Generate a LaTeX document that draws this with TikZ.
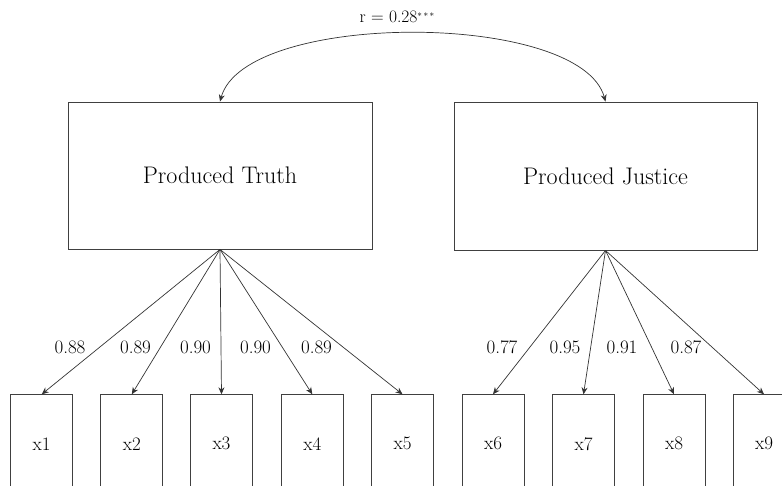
\documentclass[tikz,border=0pt]{standalone}
\usetikzlibrary{arrows.meta}
\begin{document}
\begin{tikzpicture}[x=1pt,y=-1pt,
  latent/.style={draw=black!75,line width=0.9pt,rectangle,inner sep=0pt,
    font=\fontsize{24}{28}\selectfont},
  obs/.style={draw=black!75,line width=0.9pt,rectangle,inner sep=0pt,
    minimum width=62pt,minimum height=98pt,anchor=north,
    font=\fontsize{19}{22}\selectfont},
  load/.style={draw=black!80,line width=0.7pt,-{Stealth[length=7pt,width=6pt]}},
  corr/.style={draw=black!80,line width=0.7pt,{Stealth[length=7pt,width=6pt]}-{Stealth[length=7pt,width=6pt]}},
  lbl/.style={font=\fontsize{19}{22}\selectfont,inner sep=0pt}]
\useasboundingbox (0,0) rectangle (782,486);
\clip (0,0) rectangle (782,486);
\node[latent,minimum width=304pt,minimum height=147pt] (PT) at (220,175.5) {Produced Truth};
\node[latent,minimum width=303pt,minimum height=148pt] (PJ) at (605.5,176) {Produced Justice};
\foreach \i/\x in {1/41.7,2/131.8,3/221.5,4/312.3,5/402.5,6/493,7/583.5,8/674,9/764}
  \node[obs] (x\i) at (\x,394.3) {x\i};
\foreach \i in {1,...,5} \draw[load] (PT.south) -- (x\i.north);
\foreach \i in {6,...,9} \draw[load] (PJ.south) -- (x\i.north);
\draw[corr] (PT.north) .. controls +(25,-91) and +(-25,-91) .. (PJ.north);
\node[font=\fontsize{17.5}{20}\selectfont,inner sep=0pt] (r) at (397,17)
  {r = 0.28\raisebox{0.45ex}{\fontsize{9}{10}\selectfont *\,*\,*}};
\node[lbl] (l1) at (70,347.5) {0.88};
\node[lbl] (l2) at (135.5,347.5) {0.89};
\node[lbl] (l3) at (195.5,347.5) {0.90};
\node[lbl] (l4) at (255.5,347.5) {0.90};
\node[lbl] (l5) at (316.5,347.5) {0.89};
\node[lbl] (l6) at (502,347.5) {0.77};
\node[lbl] (l7) at (565,347.5) {0.95};
\node[lbl] (l8) at (622,347.5) {0.91};
\node[lbl] (l9) at (686,347.5) {0.87};
\end{tikzpicture}
\end{document}
